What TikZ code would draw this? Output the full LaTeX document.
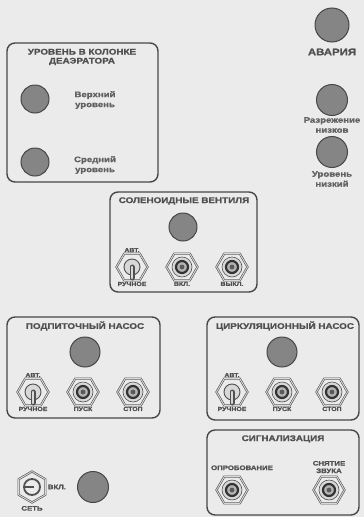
\documentclass[tikz,border=0pt]{standalone}
\usepackage{fontspec}
\setmainfont{Liberation Sans}[FakeStretch=1.2, BoldFeatures={FakeBold=1.2}]
\usetikzlibrary{shapes.geometric, positioning}
\definecolor{bg}{HTML}{EBEBEB}
\definecolor{frame}{HTML}{474747}
\definecolor{ink}{HTML}{505050}
\definecolor{lampgray}{HTML}{858585}
\definecolor{knob}{HTML}{D8D8D8}
\tikzset{
	panel/.style={draw=frame, line width=1.4pt, rounded corners=8pt},
	lamp/.style={circle, draw=frame, fill=lampgray, line width=1pt, minimum size=28pt, inner sep=0pt},
	nut/.style={regular polygon, regular polygon sides=6, draw=ink, line width=0.6pt, double=knob, double distance=0.9pt, minimum size=31pt, inner sep=0pt},
	title/.style={font=\bfseries\fontsize{8.2}{9}\selectfont, text=ink, align=center, inner sep=0pt},
	caption/.style={font=\bfseries\fontsize{8}{10}\selectfont, text=ink!90, align=center, inner sep=0pt},
	tag/.style={font=\bfseries\fontsize{5.8}{7}\selectfont, text=ink, align=center, inner sep=0pt}
}
\newcommand{\pushbtn}[2]{
	\node[nut, #2] (#1) {};
	\draw[ink, line width=0.6pt, fill=knob] (#1.center) circle (10pt);
	\draw[black!80, line width=2.2pt, fill=gray!60] (#1.center) circle (6pt);
	\fill[black!65] (#1.center) circle (2.4pt);
}
\newcommand{\toggleswitch}[2]{
	\node[nut, #2] (#1) {};
	\draw[ink, line width=0.9pt, fill=knob] (#1.center) circle (8pt);
	\draw[ink, line width=5pt, line cap=round] (#1.center) -- ++(0,11);
	\draw[knob, line width=2.4pt, line cap=round] (#1.center) -- ++(0,11);
}

\begin{document}
\begin{tikzpicture}[x=1pt, y=-1pt, node distance=50pt]
	
	\fill[bg] (0,0) rectangle (364,517);
	\useasboundingbox (0,0) rectangle (364,517);
	
	\node[lamp, minimum size=34pt] (alarm) at (332,25) {};
	\node[title, font=\bfseries\fontsize{9.5}{10}\selectfont, below=6pt of alarm] (alarmText) {АВАРИЯ};
	\node[lamp, minimum size=31pt] (vacuum) at (332,100) {};
	\node[caption, below=1pt of vacuum] (vacuumText) {Разрежение\\низков};
	\node[lamp, minimum size=31pt] (lowlevel) at (332,152) {};
	\node[caption, below=3pt of lowlevel] (lowlevelText) {Уровень\\низкий};
	
	\draw[panel] (7,43) rectangle (158,182);
	\node[title] (deaTitle) at (82,57) {УРОВЕНЬ В КОЛОНКЕ\\ДЕАЭРАТОРА};
	\node[lamp] (upper) at (35,99) {};
	\node[caption] (upperText) at (95,100) {Верхний\\уровень};
	\node[lamp] (middle) at (35,162) {};
	\node[caption] (middleText) at (95,165) {Средний\\уровень};
	
	\draw[panel] (110,192) rectangle (257,292);
	\node[title] (solTitle) at (184,201) {СОЛЕНОИДНЫЕ ВЕНТИЛЯ};
	\node[lamp] (solLamp) at (183,227) {};
	\toggleswitch{solMode}{at={(132,267)}}
	\pushbtn{solOn}{right of=solMode}
	\pushbtn{solOff}{right of=solOn}
	\node[tag, above=1pt of solMode] {АВТ.};
	\node[tag, below=1pt of solMode] {РУЧНОЕ};
	\node[tag, below=1pt of solOn] {ВКЛ.};
	\node[tag, below=1pt of solOff] {ВЫКЛ.};
	
	\draw[panel] (7,317) rectangle (160,418);
	\node[title] (feedTitle) at (85,326) {ПОДПИТОЧНЫЙ НАСОС};
	\node[lamp, minimum size=30pt] (feedLamp) at (85,352) {};
	\toggleswitch{feedMode}{at={(33,392)}}
	\pushbtn{feedStart}{right of=feedMode}
	\pushbtn{feedStop}{right of=feedStart}
	\node[tag, above=1pt of feedMode] {АВТ.};
	\node[tag, below=1pt of feedMode] {РУЧНОЕ};
	\node[tag, below=1pt of feedStart] {ПУСК};
	\node[tag, below=1pt of feedStop] {СТОП};
	
	\draw[panel] (207,317) rectangle (359,420);
	\node[title] (circTitle) at (285,326) {ЦИРКУЛЯЦИОННЫЙ НАСОС};
	\node[lamp, minimum size=30pt] (circLamp) at (282,352) {};
	\toggleswitch{circMode}{at={(232,392)}}
	\pushbtn{circStart}{right of=circMode}
	\pushbtn{circStop}{right of=circStart}
	\node[tag, above=1pt of circMode] {АВТ.};
	\node[tag, below=1pt of circMode] {РУЧНОЕ};
	\node[tag, below=1pt of circStart] {ПУСК};
	\node[tag, below=1pt of circStop] {СТОП};
	
	\draw[panel] (207,430) rectangle (359,515);
	\node[title] (sigTitle) at (283,439) {СИГНАЛИЗАЦИЯ};
	\pushbtn{sigTest}{at={(232,490)}}
	\pushbtn{sigMute}{at={(329,490)}}
	\node[tag, font=\bfseries\fontsize{6.5}{7.5}\selectfont, above=6pt of sigTest, xshift=10pt] {ОПРОБОВАНИЕ};
	\node[tag, font=\bfseries\fontsize{6.5}{7.5}\selectfont, above=3pt of sigMute] {СНЯТИЕ\\ЗВУКА};
	
	\node[nut, shape border rotate=30] (mains) at (32,487) {};
	\draw[ink, line width=1.8pt] (mains.center) circle (8pt);
	\draw[ink, line width=1.8pt] ([xshift=-8pt]mains.center) -- ([xshift=2pt]mains.center);
	\node[tag, font=\bfseries\fontsize{6.5}{7.5}\selectfont, right=2pt of mains] (mainsOn) {ВКЛ.};
	\node[lamp, minimum size=31pt] (mainsLamp) at (93,487) {};
	\node[tag, font=\bfseries\fontsize{6.5}{7.5}\selectfont, below=3pt of mains] {СЕТЬ};
	
\end{tikzpicture}
\end{document}
